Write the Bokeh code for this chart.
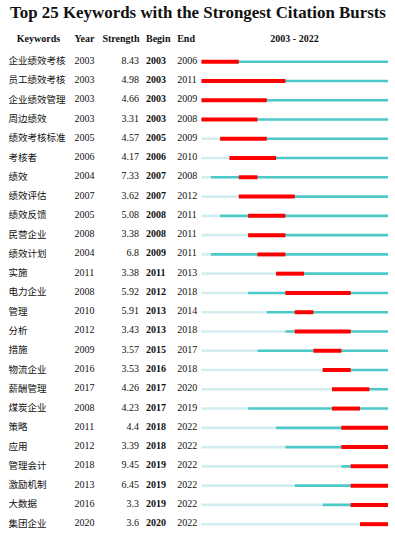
from bokeh.plotting import figure
from bokeh.models import Range1d, ColumnDataSource
from bokeh.core.properties import value
from bokeh.embed import file_html
from bokeh.resources import INLINE

keywords = ["企业绩效考核", "员工绩效考核", "企业绩效管理", "周边绩效", "绩效考核标准", "考核者", "绩效",
            "绩效评估", "绩效反馈", "民营企业", "绩效计划", "实施", "电力企业", "管理", "分析", "措施",
            "物流企业", "薪酬管理", "煤炭企业", "策略", "应用", "管理会计", "激励机制", "大数据", "集团企业"]
years = [2003, 2003, 2003, 2003, 2005, 2006, 2004, 2007, 2005, 2008, 2004, 2011, 2008, 2010, 2012, 2009,
         2016, 2017, 2008, 2011, 2012, 2018, 2013, 2016, 2020]
strengths = [8.43, 4.98, 4.66, 3.31, 4.57, 4.17, 7.33, 3.62, 5.08, 3.38, 6.8, 3.38, 5.92, 5.91, 3.43, 3.57,
             3.53, 4.26, 4.23, 4.4, 3.39, 9.45, 6.45, 3.3, 3.6]
begins = [2003, 2003, 2003, 2003, 2005, 2006, 2007, 2007, 2008, 2008, 2009, 2011, 2012, 2013, 2013, 2015,
          2016, 2017, 2017, 2018, 2018, 2019, 2019, 2019, 2020]
ends = [2006, 2011, 2009, 2008, 2009, 2010, 2008, 2012, 2011, 2011, 2011, 2013, 2018, 2014, 2018, 2017,
        2018, 2020, 2019, 2022, 2022, 2022, 2022, 2022, 2022]
first_year, last_year = 2003, 2022
title_text = "Top 25 Keywords with the Strongest Citation Bursts"
headers = ["Keywords", "Year", "Strength", "Begin", "End"]

W, H = 395, 542
row_px = 19.27
row0_px = 61.2
bar_left_px = 201.0
bar_right_px = 387.5
px_per_year = (bar_right_px - bar_left_px) / (last_year + 1 - first_year)

y_top = -row0_px / row_px
y_bot = (H - row0_px) / row_px

p = figure(width=W, height=H, output_backend="svg", toolbar_location=None,
           x_range=Range1d(0, W), y_range=Range1d(y_bot, y_top),
           min_border=0, outline_line_color=None)
p.axis.visible = False
p.grid.visible = False
p.background_fill_color = "white"
p.border_fill_color = "white"

yr_start = first_year - bar_left_px / px_per_year
yr_end = first_year + (W - bar_left_px) / px_per_year
p.extra_x_ranges = {"yr": Range1d(yr_start, yr_end)}

n = len(keywords)
rows = list(range(n))
src = ColumnDataSource(dict(
    kw=keywords, yr=[str(v) for v in years], st=[f"{v:g}" for v in strengths],
    bg=[str(v) for v in begins], en=[str(v) for v in ends], row=rows,
    y0=[first_year] * n, yv=years, yend=[last_year + 1] * n,
    b=begins, e=[v + 1 for v in ends],
))

# bars
p.segment(x0="y0", x1="yv", y0="row", y1="row", source=src, x_range_name="yr",
          line_color="#d3edef", line_width=2.6, line_cap="butt")
p.segment(x0="yv", x1="yend", y0="row", y1="row", source=src, x_range_name="yr",
          line_color="#4bc8c8", line_width=2.6, line_cap="butt")
p.segment(x0="b", x1="e", y0="row", y1="row", source=src, x_range_name="yr",
          line_color="#ff0000", line_width=4, line_cap="butt")

serif = value("Liberation Serif")
fs = "10px"
tc = "#111111"
dy = -1.5  # text sits slightly above bar centre
common = dict(source=src, text_baseline="middle", text_color=tc, y_offset=dy)
p.text(x=8, y="row", text="kw", text_font=value("Noto Sans CJK SC"),
       text_font_size="9.5px", text_align="left", **common)
p.text(x=74, y="row", text="yr", text_font=serif, text_font_size=fs,
       text_align="left", **common)
p.text(x=138.5, y="row", text="st", text_font=serif, text_font_size=fs,
       text_align="right", **common)
p.text(x=145.5, y="row", text="bg", text_font=serif, text_font_size=fs,
       text_font_style="bold", text_align="left", **common)
p.text(x=176.7, y="row", text="en", text_font=serif, text_font_size=fs,
       text_align="left", **common)

# headers
hy = (38 - row0_px) / row_px
p.text(x=[38, 74, 139, 145.5, 176.7], y=[hy] * 5, text=headers,
       text_align=["center", "left", "right", "left", "left"],
       text_font=serif, text_font_size=fs, text_font_style="bold",
       text_baseline="middle", text_color=tc)
p.text(x=[294], y=[hy], text=[f"{first_year} - {last_year}"], text_align="center",
       text_font=serif, text_font_size=fs, text_font_style="bold",
       text_baseline="middle", text_color=tc)

# title
ty = (12 - row0_px) / row_px
p.text(x=[197.5], y=[ty], text=[title_text], text_align="center", text_font=serif,
       text_font_size="16.9px", text_font_style="bold", text_baseline="middle", text_color=tc)

open("out.html", "w").write(file_html(p, INLINE))
